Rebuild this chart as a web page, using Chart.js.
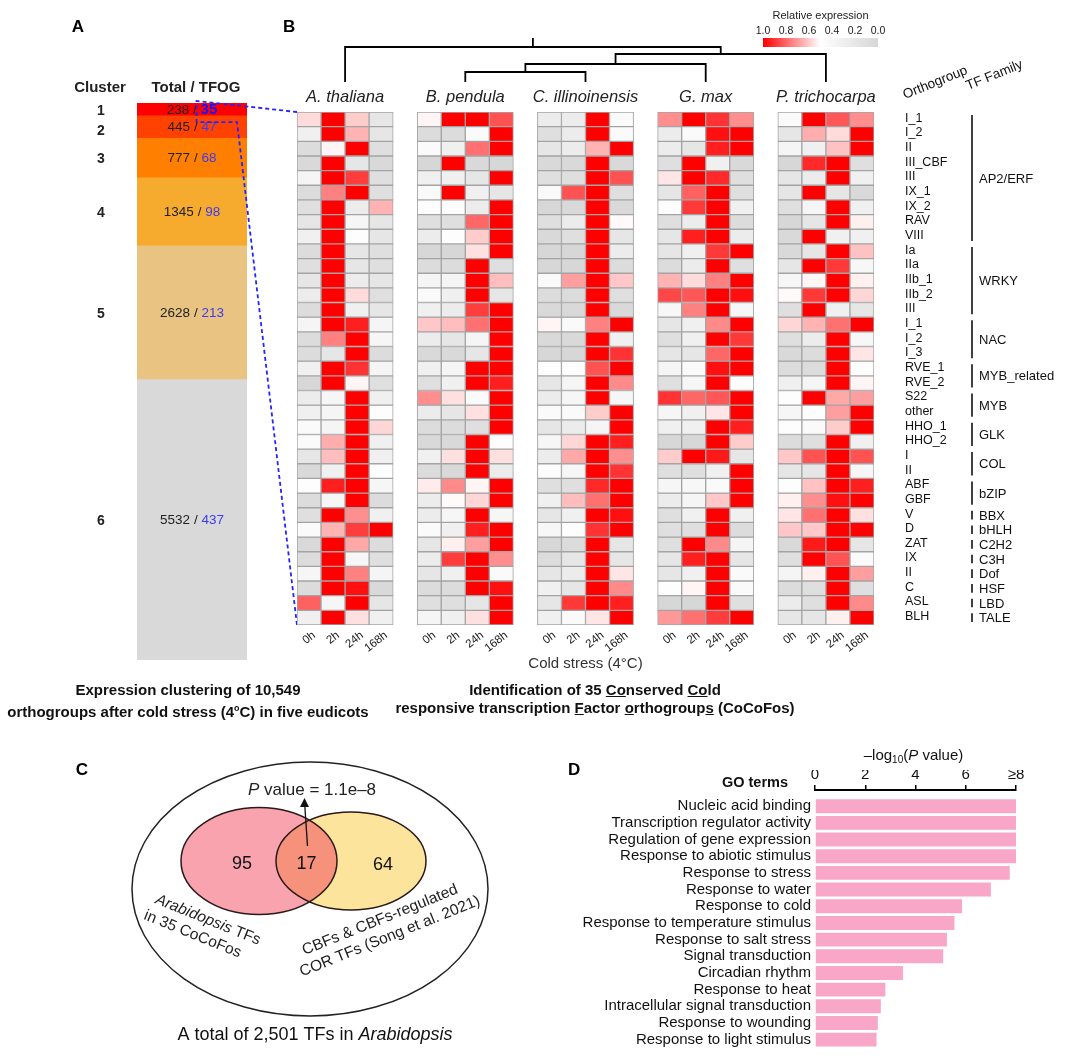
<!DOCTYPE html>
<html>
<head>
<meta charset="utf-8">
<script src="https://cdn.jsdelivr.net/npm/chart.js@4.4.0/dist/chart.umd.min.js"></script>
<style>
    body { margin: 0; background: #fff; font-family: "Liberation Sans", Arial, sans-serif; }
    #page { position: relative; width: 1080px; height: 1061px; overflow: hidden; }
    canvas { position: absolute; }
    .cap { position: absolute; font-weight: bold; font-size: 15px; color: #111; text-align: center; line-height: 18px; white-space: nowrap; }
    .cap sup { font-size: 9px; }
</style>
</head>
<body>
<div id="page">
    <canvas id="chartA" style="left:0;top:0;width:300px;height:700px" width="300" height="700"></canvas>
    <canvas id="chartB" style="left:280px;top:0;width:800px;height:730px" width="800" height="730"></canvas>
    <canvas id="chartC" style="left:60px;top:740px;width:480px;height:321px" width="480" height="321"></canvas>
    <canvas id="chartD" style="left:560px;top:730px;width:520px;height:331px" width="520" height="331"></canvas>
    <div class="cap" style="left:0;top:681px;width:376px">Expression clustering of 10,549<br>orthogroups after cold stress (4<sup>o</sup>C) in five eudicots</div>
    <div class="cap" style="left:365px;top:681px;width:460px">Identification of 35 <u>Co</u>nserved <u>Co</u>ld<br>responsive transcription <u>F</u>actor <u>o</u>rthogroup<u>s</u> (CoCoFos)</div>
</div>
<script>
// ---- data ----
const clusterIds = ['1', '2', '3', '4', '5', '6'];
const clusterTotals = [238, 445, 777, 1345, 2628, 5532];
const clusterTFOGs = [35, 47, 68, 98, 213, 437];

const species = ['A. thaliana', 'B. pendula', 'C. illinoinensis', 'G. max', 'P. trichocarpa'];
const timePoints = ['0h', '2h', '24h', '168h'];
const orthogroups = ['I_1', 'I_2', 'II', 'III_CBF', 'III', 'IX_1', 'IX_2', 'RAV', 'VIII',
    'Ia', 'IIa', 'IIb_1', 'IIb_2', 'III', 'I_1', 'I_2', 'I_3', 'RVE_1', 'RVE_2', 'S22', 'other',
    'HHO_1', 'HHO_2', 'I', 'II', 'ABF', 'GBF', 'V', 'D', 'ZAT', 'IX', 'II', 'C', 'ASL', 'BLH'];
const tfFamilies = ['AP2/ERF', 'WRKY', 'NAC', 'MYB_related', 'MYB', 'GLK', 'COL', 'bZIP',
    'BBX', 'bHLH', 'C2H2', 'C3H', 'Dof', 'HSF', 'LBD', 'TALE'];
const familySizes = [9, 5, 3, 2, 2, 2, 2, 2, 1, 1, 1, 1, 1, 1, 1, 1];

// relative expression per orthogroup: [0h, 2h, 24h, 168h]
const exprAthaliana = [
    [0.57, 1, 0.6, 0.19], [0.31, 1, 0.65, 0.19], [0.06, 0.52, 1, 0.1], [0.03, 1, 0.19, 0.03],
    [0.37, 1, 0.88, 0.1], [0.06, 0.75, 1, 0.1], [0.1, 1, 0.26, 0.65], [0.19, 1, 0.39, 0.19],
    [0.31, 1, 0.47, 0.19], [0.06, 1, 0.19, 0.1], [0.1, 1, 0.19, 0.1], [0.19, 1, 0.26, 0.19],
    [0.26, 1, 0.57, 0.1], [0.06, 1, 0.31, 0.19], [0.37, 1, 0.94, 0.37], [0.06, 0.75, 1, 0.39],
    [0.06, 0.19, 1, 0.06], [0.31, 1, 0.9, 0.37], [0.0, 1, 0.52, 0.1], [0.26, 0.39, 1, 0.31],
    [0.31, 0.37, 1, 0.47], [0.44, 0.37, 1, 0.58], [0.44, 0.66, 1, 0.31], [0.19, 0.63, 1, 0.31],
    [0.03, 0.31, 1, 0.47], [0.47, 0.94, 1, 0.39], [0.06, 0.39, 1, 0.06], [0.1, 1, 0.72, 0.31],
    [0.44, 0.65, 0.88, 1], [0.03, 1, 0.67, 0.06], [0.06, 1, 0.39, 0.1], [0.39, 1, 0.75, 0.37],
    [0.06, 1, 0.97, 0.03], [0.81, 0.39, 1, 0.19], [0.31, 1, 0.56, 0.31]
];
const exprBpendula = [
    [0.52, 1, 1, 0.84], [0.06, 0.06, 0.44, 1], [0.44, 0.31, 0.78, 1], [0.0, 1, 0.03, 0.0],
    [0.31, 0.31, 0.19, 1], [0.44, 1, 0.31, 0.19], [0.47, 0.47, 0.26, 1], [0.1, 0.1, 0.8, 1],
    [0.26, 0.47, 0.6, 1], [0.0, 0.0, 0.56, 1], [0.06, 0.06, 1, 0.1], [0.37, 0.37, 1, 0.63],
    [0.44, 0.31, 1, 0.19], [0.31, 0.26, 0.88, 1], [0.61, 0.63, 0.78, 1], [0.26, 0.19, 0.37, 1],
    [0.03, 0.03, 0.19, 1], [0.31, 0.37, 1, 1], [0.1, 0.31, 1, 0.94], [0.72, 0.56, 0.44, 1],
    [0.26, 0.19, 0.56, 1], [0.06, 0.06, 0.1, 1], [0.03, 0.03, 1, 0.47], [0.31, 0.56, 1, 0.56],
    [0.06, 0.03, 1, 0.26], [0.54, 0.73, 0.52, 1], [0.26, 0.51, 0.58, 1], [0.26, 0.39, 1, 0.39],
    [0.44, 0.31, 0.94, 1], [0.19, 0.53, 0.69, 1], [0.26, 0.88, 1, 0.72], [0.19, 0.31, 1, 0.44],
    [0.06, 0.06, 1, 0.97], [0.1, 0.1, 0.19, 1], [0.37, 0.31, 0.56, 1]
];
const exprCillinoinensis = [
    [0.26, 0.26, 1, 0.44], [0.1, 0.26, 1, 0.44], [0.19, 0.26, 0.65, 1], [0.03, 0.03, 1, 0.03],
    [0.1, 0.1, 1, 0.84], [0.44, 0.84, 1, 0.1], [0.0, 0.03, 1, 0.03], [0.1, 0.26, 1, 0.51],
    [0.03, 0.1, 1, 0.19], [0.0, 0.0, 1, 0.26], [0.0, 0.0, 1, 0.06], [0.44, 0.69, 1, 0.61],
    [0.06, 0.06, 1, 0.1], [0.03, 0.03, 1, 0.03], [0.52, 0.44, 0.75, 1], [0.03, 0.03, 1, 0.31],
    [0.0, 0.0, 1, 0.9], [0.47, 0.47, 0.84, 1], [0.19, 0.37, 1, 0.73], [0.26, 0.39, 1, 0.39],
    [0.44, 0.44, 0.6, 1], [0.19, 0.26, 0.37, 1], [0.39, 0.58, 1, 0.94], [0.26, 0.67, 1, 0.72],
    [0.47, 0.39, 1, 0.9], [0.1, 0.1, 0.92, 1], [0.31, 0.63, 0.78, 1], [0.19, 0.31, 1, 0.97],
    [0.4, 0.47, 0.9, 1], [0.0, 0.06, 1, 0.19], [0.06, 0.19, 1, 0.19], [0.19, 0.26, 1, 0.55],
    [0.31, 0.19, 1, 0.73], [0.19, 0.89, 1, 0.94], [0.31, 0.44, 0.55, 1]
];
const exprGmax = [
    [0.72, 1, 0.9, 0.72], [0.26, 0.44, 0.97, 1], [0.26, 0.19, 0.94, 1], [0.1, 1, 0.31, 0.03],
    [0.55, 1, 0.92, 0.1], [0.19, 0.81, 1, 0.1], [0.47, 0.89, 1, 0.31], [0.1, 0.26, 1, 0.06],
    [0.19, 0.94, 1, 0.26], [0.19, 0.31, 0.89, 1], [0.06, 0.26, 1, 0.1], [0.65, 0.57, 0.75, 1],
    [0.86, 0.83, 1, 0.97], [0.4, 0.75, 1, 0.4], [0.19, 0.31, 0.73, 1], [0.1, 0.31, 1, 0.89],
    [0.19, 0.19, 0.8, 1], [0.37, 0.44, 0.97, 1], [0.1, 0.39, 1, 0.47], [0.9, 0.8, 0.83, 1],
    [0.39, 0.31, 0.55, 1], [0.31, 0.31, 1, 0.94], [0.0, 0.0, 1, 0.6], [0.6, 1, 0.95, 0.19],
    [0.1, 0.1, 0.31, 1], [0.39, 0.4, 0.44, 1], [0.26, 0.37, 0.61, 1], [0.1, 0.31, 1, 0.31],
    [0.1, 0.1, 1, 0.06], [0.1, 1, 0.73, 0.37], [0.19, 0.94, 1, 0.19], [0.19, 0.31, 1, 0.44],
    [0.47, 0.52, 1, 0.44], [0.0, 0.0, 1, 0.1], [0.7, 0.78, 0.88, 1]
];
const exprPtrichocarpa = [
    [0.44, 1, 0.83, 0.72], [0.19, 0.66, 0.57, 1], [0.37, 0.31, 0.62, 1], [0.0, 0.92, 1, 0.1],
    [0.19, 0.26, 1, 0.31], [0.19, 1, 0.19, 0.03], [0.1, 0.37, 1, 0.31], [0.0, 0.19, 1, 0.53],
    [0.03, 1, 0.31, 0.31], [0.03, 0.19, 1, 0.62], [0.19, 1, 0.89, 0.4], [0.39, 0.52, 1, 0.53],
    [0.51, 0.89, 1, 0.58], [0.1, 1, 0.31, 0.19], [0.58, 0.65, 0.78, 1], [0.1, 0.26, 1, 0.4],
    [0.03, 0.06, 1, 0.55], [0.06, 0.06, 1, 0.47], [0.31, 0.37, 1, 0.52], [0.47, 1, 0.67, 0.69],
    [0.39, 0.47, 0.69, 1], [0.47, 0.44, 0.6, 1], [0.06, 0.1, 1, 0.31], [0.61, 0.84, 1, 0.84],
    [0.19, 0.19, 1, 0.39], [0.47, 0.62, 1, 0.94], [0.53, 0.72, 0.97, 1], [0.55, 0.78, 1, 0.56],
    [0.61, 0.61, 1, 1], [0.03, 0.95, 1, 0.19], [0.1, 1, 0.84, 0.44], [0.37, 0.53, 1, 0.69],
    [0.06, 0.1, 1, 0.1], [0.26, 0.1, 1, 0.73], [0.19, 0.19, 0.53, 1]
];
// species tree: [childA, childB, height]; leaves 0..4, merged nodes numbered from 5
const treeMerges = [[1, 2, 1.0], [5, 3, 1.8], [6, 4, 2.8], [0, 7, 3.5]];
const legendTicks = ['1.0', '0.8', '0.6', '0.4', '0.2', '0.0'];

const vennCounts = [95, 17, 64];
const vennPValue = '1.1e\u20138';

const goTerms = ['Nucleic acid binding', 'Transcription regulator activity', 'Regulation of gene expression',
    'Response to abiotic stimulus', 'Response to stress', 'Response to water', 'Response to cold',
    'Response to temperature stimulus', 'Response to salt stress', 'Signal transduction',
    'Circadian rhythm', 'Response to heat', 'Intracellular signal transduction',
    'Response to wounding', 'Response to light stimulus'];
const goValues = [8, 8, 8, 8, 7.75, 7.0, 5.85, 5.55, 5.25, 5.1, 3.5, 2.8, 2.62, 2.5, 2.45];

// ---- styles ----
const FONT = '"Liberation Sans", Arial, sans-serif';
const clusterColors = ['#fe0000', '#ff4200', '#ff7f00', '#f6aa2e', '#e8c381', '#d9d9d9'];
const tfogBlue = '#3c3cf0';

function exprColor(v) {
    if (v >= 0.5) {
        const c = Math.round(255 * (1 - (v - 0.5) / 0.5));
        return `rgb(255,${c},${c})`;
    }
    const g = Math.round(215 + 80 * v);
    return `rgb(${g},${g},${g})`;
}

function txt(ctx, s, x, y, font, color, align, baseline) {
    ctx.font = font;
    ctx.fillStyle = color || '#111';
    ctx.textAlign = align || 'left';
    ctx.textBaseline = baseline || 'middle';
    ctx.fillText(s, x, y);
}

const baseOpts = {
    responsive: false,
    maintainAspectRatio: false,
    animation: false,
    events: []
};

// ---- panel A: cluster sizes ----
const panelA = {
    id: 'panelA',
    afterDraw(chart) {
        const ctx = chart.ctx;
        const area = chart.chartArea;
        const cx = (area.left + area.right) / 2;
        ctx.save();
        txt(ctx, 'A', 78, 27, 'bold 17px ' + FONT, '#000', 'center');
        txt(ctx, 'Cluster', 100, 88, 'bold 15px ' + FONT, '#222', 'center');
        txt(ctx, 'Total / TFOG', cx + 4, 88, 'bold 15px ' + FONT, '#222', 'center');
        let box = null;
        clusterTotals.forEach((tot, i) => {
            const bar = chart.getDatasetMeta(i).data[0];
            const y = (bar.y + bar.base) / 2;
            txt(ctx, clusterIds[i], 101, y + (i === 1 ? 5 : 2), 'bold 14px ' + FONT, '#222', 'center');
            const f1 = '13.5px ' + FONT;
            const f2 = (i === 0 ? 'bold 15px ' : '13.5px ') + FONT;
            const a = tot + ' / ';
            const b = String(clusterTFOGs[i]);
            ctx.font = f1; const wa = ctx.measureText(a).width;
            ctx.font = f2; const wb = ctx.measureText(b).width;
            const x0 = cx - (wa + wb) / 2;
            txt(ctx, a, x0, y + 1, f1, '#222', 'left');
            txt(ctx, b, x0 + wa, y + 1, f2, i === 0 ? '#1414ff' : tfogBlue, 'left');
            if (i === 0) box = { left: x0 + wa - 4, top: Math.min(bar.y, bar.base) - 2, bottom: Math.max(bar.y, bar.base) + 7 };
        });
        // zoom lines from cluster 1 to the heatmap
        ctx.strokeStyle = '#2424ff';
        ctx.lineWidth = 1.8;
        ctx.setLineDash([4, 3]);
        ctx.beginPath();
        ctx.moveTo(297, 112);
        ctx.lineTo(box.left, box.top);
        ctx.lineTo(box.left, box.bottom);
        ctx.lineTo(area.right - 10, box.bottom);
        ctx.lineTo(297, 625);
        ctx.stroke();
        ctx.restore();
    }
};

new Chart(document.getElementById('chartA'), {
    type: 'bar',
    data: {
        labels: ['clusters'],
        datasets: clusterTotals.map((v, i) => ({
            label: 'Cluster ' + clusterIds[i],
            data: [v],
            backgroundColor: clusterColors[i],
            borderWidth: 0,
            barPercentage: 1,
            categoryPercentage: 1
        }))
    },
    options: Object.assign({}, baseOpts, {
        layout: { padding: { left: 137, right: 53, top: 103, bottom: 40 } },
        scales: {
            x: { display: false, stacked: true },
            y: { display: false, stacked: true, reverse: true, min: 0, max: clusterTotals.reduce((a, b) => a + b, 0) }
        },
        plugins: { legend: { display: false }, tooltip: { enabled: false } }
    }),
    plugins: [panelA]
});

// ---- panel B: heatmap ----
const allExpr = [exprAthaliana, exprBpendula, exprCillinoinensis, exprGmax, exprPtrichocarpa];
const slotLabels = [];
species.forEach((s, si) => {
    timePoints.forEach(t => slotLabels.push(t));
    if (si < species.length - 1) slotLabels.push('');
});
const heatDatasets = orthogroups.map((og, r) => {
    const data = [];
    const colors = [];
    species.forEach((s, si) => {
        timePoints.forEach((t, ti) => {
            data.push([r, r + 1]);
            colors.push(exprColor(allExpr[si][r][ti]));
        });
        if (si < species.length - 1) {
            data.push(null);
            colors.push('rgba(0,0,0,0)');
        }
    });
    return {
        label: og,
        data: data,
        backgroundColor: colors,
        borderColor: '#a4a4a4',
        borderWidth: 1,
        borderSkipped: false,
        grouped: false,
        barPercentage: 1,
        categoryPercentage: 1
    };
});

const panelB = {
    id: 'panelB',
    afterDraw(chart) {
        const ctx = chart.ctx;
        const area = chart.chartArea;
        const xs = chart.scales.x;
        const ys = chart.scales.y;
        ctx.save();
        txt(ctx, 'B', 3, 27, 'bold 17px ' + FONT, '#000', 'left');

        // species names and tree
        const leafX = species.map((s, si) => (xs.getPixelForValue(si * 5 + 1) + xs.getPixelForValue(si * 5 + 2)) / 2);
        species.forEach((s, si) => txt(ctx, s, leafX[si], area.top - 15, 'italic 16.5px ' + FONT, '#222', 'center'));
        const leafY = area.top - 30;
        const unit = 10;
        const nodes = leafX.map(x => ({ x: x, y: leafY }));
        ctx.strokeStyle = '#000';
        ctx.lineWidth = 1.8;
        treeMerges.forEach(m => {
            const a = nodes[m[0]], b = nodes[m[1]];
            const y = leafY - m[2] * unit;
            ctx.beginPath();
            ctx.moveTo(a.x, a.y); ctx.lineTo(a.x, y); ctx.lineTo(b.x, y); ctx.lineTo(b.x, b.y);
            ctx.stroke();
            nodes.push({ x: (a.x + b.x) / 2, y: y });
        });
        const root = nodes[nodes.length - 1];
        ctx.beginPath(); ctx.moveTo(root.x, root.y); ctx.lineTo(root.x, root.y - 9); ctx.stroke();

        // colour legend
        const gx0 = area.right - 111, gx1 = area.right + 4;
        const grad = ctx.createLinearGradient(gx0, 0, gx1, 0);
        grad.addColorStop(0, exprColor(1));
        grad.addColorStop(0.5, exprColor(0.5));
        grad.addColorStop(1, exprColor(0));
        ctx.fillStyle = grad;
        ctx.fillRect(gx0, 38, gx1 - gx0, 9);
        txt(ctx, 'Relative expression', (gx0 + gx1) / 2, 16, '11px ' + FONT, '#222', 'center');
        legendTicks.forEach((t, i) => txt(ctx, t, gx0 + i * (gx1 - gx0) / (legendTicks.length - 1), 31, '10.5px ' + FONT, '#222', 'center'));

        // time labels
        slotLabels.forEach((t, k) => {
            if (!t) return;
            ctx.save();
            ctx.translate(xs.getPixelForValue(k) + 5, area.bottom + 9);
            ctx.rotate(-38 * Math.PI / 180);
            txt(ctx, t, 0, 0, '11.5px ' + FONT, '#222', 'right', 'middle');
            ctx.restore();
        });
        txt(ctx, 'Cold stress (4\u00B0C)', (area.left + area.right) / 2, area.bottom + 39, '15px ' + FONT, '#333', 'center');

        // orthogroup and family labels
        const rowX = area.right + 31;
        orthogroups.forEach((og, r) => txt(ctx, og, rowX, ys.getPixelForValue(r + 0.5) - 1, '12.5px ' + FONT, '#111', 'left'));
        const brX = area.right + 98;
        let r0 = 0;
        ctx.lineWidth = 1.6;
        tfFamilies.forEach((fam, i) => {
            const r1 = r0 + familySizes[i];
            const yTop = ys.getPixelForValue(r0) + 3;
            const yBot = ys.getPixelForValue(r1) - 3;
            ctx.strokeStyle = '#111';
            ctx.beginPath(); ctx.moveTo(brX, yTop); ctx.lineTo(brX, yBot); ctx.stroke();
            txt(ctx, fam, brX + 7, (yTop + yBot) / 2 + 1, '13px ' + FONT, '#111', 'left');
            r0 = r1;
        });
        ctx.save();
        ctx.translate(rowX, area.top - 13);
        ctx.rotate(-22 * Math.PI / 180);
        txt(ctx, 'Orthogroup', 0, 0, '13.5px ' + FONT, '#111', 'left', 'alphabetic');
        ctx.restore();
        ctx.save();
        ctx.translate(brX - 4, area.top - 22);
        ctx.rotate(-22 * Math.PI / 180);
        txt(ctx, 'TF Family', 0, 0, '13.5px ' + FONT, '#111', 'left', 'alphabetic');
        ctx.restore();
        ctx.restore();
    }
};

new Chart(document.getElementById('chartB'), {
    type: 'bar',
    data: { labels: slotLabels, datasets: heatDatasets },
    options: Object.assign({}, baseOpts, {
        layout: { padding: { left: 17, right: 206, top: 112, bottom: 105 } },
        scales: {
            x: { display: false },
            y: { display: false, min: 0, max: orthogroups.length, reverse: true }
        },
        plugins: { legend: { display: false }, tooltip: { enabled: false } }
    }),
    plugins: [panelB]
});

// ---- panel C: Venn diagram ----
const vennLayout = {
    outer: { x: 250, y: 149, rx: 178, ry: 127 },
    left: { x: 199, y: 121, rx: 78, ry: 53.5 },
    right: { x: 291, y: 121, rx: 75, ry: 49 }
};
const panelC = {
    id: 'panelC',
    afterDraw(chart) {
        const ctx = chart.ctx;
        const xs = chart.scales.x;
        const ys = chart.scales.y;
        const ell = (e) => {
            ctx.beginPath();
            ctx.ellipse(xs.getPixelForValue(e.x), ys.getPixelForValue(e.y),
                xs.getPixelForValue(e.x + e.rx) - xs.getPixelForValue(e.x),
                ys.getPixelForValue(e.y + e.ry) - ys.getPixelForValue(e.y), 0, 0, Math.PI * 2);
        };
        const L = vennLayout.left, R = vennLayout.right, O = vennLayout.outer;
        ctx.save();
        txt(ctx, 'C', 22, 30, 'bold 17px ' + FONT, '#000', 'center');
        ell(L); ctx.fillStyle = '#f9a3af'; ctx.fill();
        ell(R); ctx.fillStyle = '#fde49c'; ctx.fill();
        ctx.save(); ell(L); ctx.clip(); ell(R); ctx.fillStyle = '#f6917b'; ctx.fill(); ctx.restore();
        ctx.strokeStyle = '#2a1a1a'; ctx.lineWidth = 1.5;
        ell(L); ctx.stroke();
        ell(R); ctx.stroke();
        ctx.strokeStyle = '#222';
        ell(O); ctx.stroke();

        const midX = (L.x + L.rx + R.x - R.rx) / 2;
        txt(ctx, String(vennCounts[0]), xs.getPixelForValue(L.x - 17), ys.getPixelForValue(L.y + 3), '18px ' + FONT, '#111', 'center');
        txt(ctx, String(vennCounts[1]), xs.getPixelForValue(midX), ys.getPixelForValue(L.y + 3), '18px ' + FONT, '#111', 'center');
        txt(ctx, String(vennCounts[2]), xs.getPixelForValue(R.x + 32), ys.getPixelForValue(R.y + 4), '18px ' + FONT, '#111', 'center');

        // p value with arrow
        const pY = ys.getPixelForValue(50);
        const f = '17px ' + FONT, fi = 'italic 17px ' + FONT;
        ctx.font = fi; const w1 = ctx.measureText('P').width;
        ctx.font = f; const rest = ' value = ' + vennPValue; const w2 = ctx.measureText(rest).width;
        const px0 = xs.getPixelForValue(O.x + 2) - (w1 + w2) / 2;
        txt(ctx, 'P', px0, pY, fi, '#222', 'left');
        txt(ctx, rest, px0 + w1, pY, f, '#222', 'left');
        const ax = xs.getPixelForValue(midX);
        ctx.strokeStyle = '#111'; ctx.lineWidth = 1.3;
        ctx.beginPath(); ctx.moveTo(ax + 1, ys.getPixelForValue(106)); ctx.lineTo(ax - 2, ys.getPixelForValue(61)); ctx.stroke();
        ctx.fillStyle = '#111';
        ctx.beginPath();
        ctx.moveTo(ax - 2, ys.getPixelForValue(58));
        ctx.lineTo(ax - 6.5, ys.getPixelForValue(67));
        ctx.lineTo(ax + 2.5, ys.getPixelForValue(67));
        ctx.closePath(); ctx.fill();

        // set labels
        const fl = '15.5px ' + FONT, fli = 'italic 15.5px ' + FONT;
        ctx.save();
        ctx.translate(xs.getPixelForValue(148), ys.getPixelForValue(180));
        ctx.rotate(22 * Math.PI / 180);
        ctx.font = fli; const wa = ctx.measureText('Arabidopsis').width;
        ctx.font = fl; const wt = ctx.measureText(' TFs').width;
        txt(ctx, 'Arabidopsis', -(wa + wt) / 2, 0, fli, '#222', 'left');
        txt(ctx, ' TFs', -(wa + wt) / 2 + wa, 0, fl, '#222', 'left');
        txt(ctx, 'in 35 CoCoFos', -9, 19, fl, '#222', 'center');
        ctx.restore();
        ctx.save();
        ctx.translate(xs.getPixelForValue(320), ys.getPixelForValue(180));
        ctx.rotate(-22 * Math.PI / 180);
        txt(ctx, 'CBFs & CBFs-regulated', 0, 0, fl, '#222', 'center');
        txt(ctx, 'COR TFs (Song et al. 2021)', 3, 19, fl, '#222', 'center');
        ctx.restore();

        // caption
        const cy = ys.getPixelForValue(295);
        const fc = '18px ' + FONT, fci = 'italic 18px ' + FONT;
        ctx.font = fc; const c1 = 'A total of 2,501 TFs in '; const wc1 = ctx.measureText(c1).width;
        ctx.font = fci; const wc2 = ctx.measureText('Arabidopsis').width;
        const cx0 = xs.getPixelForValue(O.x + 5) - (wc1 + wc2) / 2;
        txt(ctx, c1, cx0, cy, fc, '#111', 'left');
        txt(ctx, 'Arabidopsis', cx0 + wc1, cy, fci, '#111', 'left');
        ctx.restore();
    }
};

new Chart(document.getElementById('chartC'), {
    type: 'scatter',
    data: { datasets: [{ data: [] }] },
    options: Object.assign({}, baseOpts, {
        layout: { padding: 0 },
        scales: {
            x: { display: false, min: 0, max: 480 },
            y: { display: false, min: 0, max: 321, reverse: true }
        },
        plugins: { legend: { display: false }, tooltip: { enabled: false } }
    }),
    plugins: [panelC]
});

// ---- panel D: GO enrichment ----
const panelD = {
    id: 'panelD',
    afterDraw(chart) {
        const ctx = chart.ctx;
        const area = chart.chartArea;
        const ys = chart.scales.y;
        ctx.save();
        txt(ctx, 'D', 8, 40, 'bold 17px ' + FONT, '#000', 'left');
        txt(ctx, 'GO terms', area.left - 27, 53, 'bold 14.5px ' + FONT, '#111', 'right');
        // term labels at each bar
        goTerms.forEach((t, i) => txt(ctx, t, area.left - 4, ys.getPixelForValue(i), '15px ' + FONT, '#111', 'right'));
        // axis title: -log10(P value)
        const f = '15px ' + FONT, fs = '10px ' + FONT, fi = 'italic 15px ' + FONT;
        const parts = [['\u2013log', f, 0], ['10', fs, 4], ['(', f, 0], ['P', fi, 0], [' value)', f, 0]];
        let w = 0;
        parts.forEach(p => { ctx.font = p[1]; p.push(ctx.measureText(p[0]).width); w += p[3]; });
        let x = (area.left + area.right) / 2 - 2 - w / 2;
        parts.forEach(p => { txt(ctx, p[0], x, 26 + p[2], p[1], '#111', 'left'); x += p[3]; });
        ctx.restore();
    }
};

new Chart(document.getElementById('chartD'), {
    type: 'bar',
    data: {
        labels: goTerms,
        datasets: [{
            label: '-log10(P value)',
            data: goValues.map((v, i) => ({ x: v, y: i })),
            backgroundColor: '#f9a7c9',
            borderWidth: 0,
            barPercentage: 0.86,
            categoryPercentage: 1
        }]
    },
    options: Object.assign({}, baseOpts, {
        indexAxis: 'y',
        layout: { padding: { left: 0, right: 64, top: 40, bottom: 13 } },
        scales: {
            x: {
                position: 'top',
                min: 0, max: 8,
                afterFit: (scale) => { scale.height = 20; },
                ticks: {
                    stepSize: 2,
                    padding: 1,
                    color: '#111',
                    font: { family: FONT, size: 15 },
                    callback: (v) => v === 8 ? '\u22658' : v
                },
                grid: { drawOnChartArea: false, drawTicks: true, tickLength: 5, color: '#000', lineWidth: 1.5 },
                border: { display: true, color: '#000', width: 2 }
            },
            y: {
                type: 'linear',
                reverse: true,
                offset: false,
                min: -0.97, max: 14.5,
                afterFit: (scale) => { scale.width = 255; },
                ticks: { display: false },
                grid: { display: false },
                border: { display: false }
            }
        },
        plugins: { legend: { display: false }, tooltip: { enabled: false } }
    }),
    plugins: [panelD]
});
</script>
</body>
</html>
